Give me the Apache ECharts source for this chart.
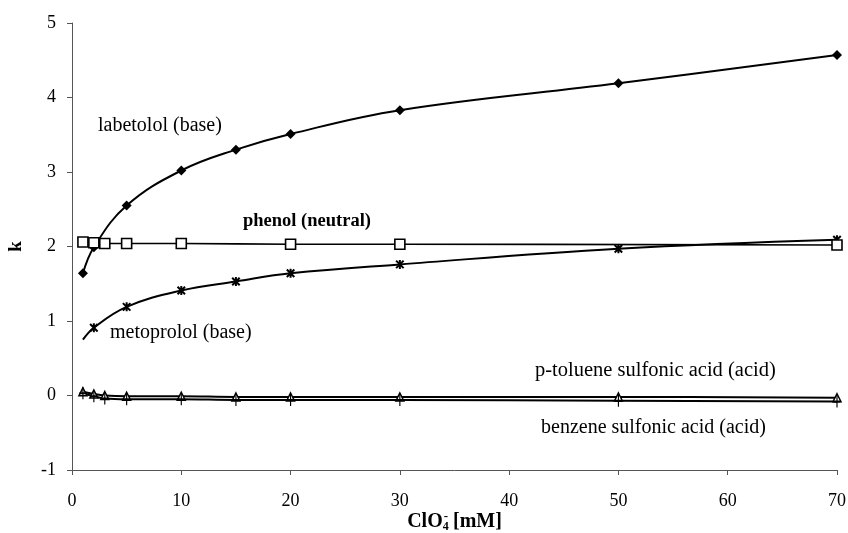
<!DOCTYPE html>
<html>
<head>
<meta charset="utf-8">
<script src="https://cdn.jsdelivr.net/npm/echarts@6/dist/echarts.min.js"></script>
<style>
  html, body { margin: 0; padding: 0; background: #fff; }
  #chart { width: 848px; height: 533px; }
</style>
</head>
<body>
<div id="chart"></div>
<script>
// Retention factor k versus perchlorate concentration (mM)
const labetololX = [1, 2, 5, 10, 15, 20, 30, 50, 70];
const labetololK = [1.64, 1.99, 2.55, 3.02, 3.30, 3.51, 3.83, 4.19, 4.57];

const phenolX = [1, 2, 3, 5, 10, 20, 30, 70];
const phenolK = [2.06, 2.05, 2.04, 2.04, 2.04, 2.03, 2.03, 2.02];

const metoprololX = [1, 2, 5, 10, 15, 20, 30, 50, 70];
const metoprololK = [0.75, 0.91, 1.19, 1.41, 1.53, 1.64, 1.76, 1.97, 2.09];

const acidX = [1, 2, 3, 5, 10, 15, 20, 30, 50, 70];
const toluenesulfonicK = [0.05, 0.02, 0.00, -0.01, -0.01, -0.02, -0.02, -0.02, -0.02, -0.03];
const benzenesulfonicK = [0.03, -0.01, -0.04, -0.05, -0.05, -0.06, -0.06, -0.06, -0.07, -0.08];

const xTicks = { min: 0, max: 70, interval: 10 };
const yTicks = { min: -1, max: 5, interval: 1 };

const serif = '"Liberation Serif", "DejaVu Serif", serif';

function pairs(xs, ys) { return xs.map((x, i) => [x, ys[i]]); }

const asteriskPath = 'path://M0,0 L10,10 M10,0 L0,10 M5,-1 L5,11';
const plusPath = 'path://M5,0 L5,12 M2,6 L8,6';

const chart = echarts.init(document.getElementById('chart'), null, { renderer: 'canvas' });

const baseLine = { type: 'line', smooth: 0.4, z: 3 };

chart.setOption({
  animation: false,
  backgroundColor: '#ffffff',
  grid: { left: 72, right: 11, top: 23, bottom: 63, containLabel: false, outerBoundsMode: 'none' },
  xAxis: {
    type: 'value', min: xTicks.min, max: xTicks.max, interval: xTicks.interval,
    axisLine: { onZero: false, lineStyle: { color: '#555', width: 1 } },
    axisTick: { show: true, length: 5, lineStyle: { color: '#555' } },
    splitLine: { show: false },
    axisLabel: { color: '#000', fontFamily: serif, fontSize: 18, margin: 22 },
    name: '{b|ClO}{sub|4}{sup|-}{b| [mM]}',
    nameLocation: 'middle', nameGap: 40, nameMoveOverlap: false,
    nameTextStyle: {
      rich: {
        b: { fontFamily: serif, fontWeight: 'bold', fontSize: 20, color: '#000', lineHeight: 23, verticalAlign: 'middle' },
        sub: { fontFamily: serif, fontWeight: 'bold', fontSize: 12, color: '#000', lineHeight: 23, verticalAlign: 'bottom' },
        sup: { fontFamily: serif, fontWeight: 'bold', fontSize: 13, color: '#000', lineHeight: 23, verticalAlign: 'top', padding: [0, 0, 0, -5] }
      }
    }
  },
  yAxis: {
    type: 'value', min: yTicks.min, max: yTicks.max, interval: yTicks.interval,
    axisLine: { show: true, lineStyle: { color: '#555', width: 1 } },
    axisTick: { show: true, length: 5, lineStyle: { color: '#555' } },
    splitLine: { show: false },
    axisLabel: { color: '#000', fontFamily: serif, fontSize: 18, margin: 16 },
    name: 'k', nameLocation: 'middle', nameGap: 46, nameRotate: 90, nameMoveOverlap: false,
    nameTextStyle: { fontFamily: serif, fontWeight: 'bold', fontSize: 19, color: '#000' }
  },
  series: [
    Object.assign({}, baseLine, {
      name: 'labetolol (base)',
      data: pairs(labetololX, labetololK),
      symbol: 'diamond', symbolSize: 10,
      lineStyle: { color: '#000', width: 2 },
      itemStyle: { color: '#000' }
    }),
    Object.assign({}, baseLine, {
      name: 'phenol (neutral)',
      data: pairs(phenolX, phenolK),
      symbol: 'rect', symbolSize: 10,
      lineStyle: { color: '#000', width: 1.6 },
      itemStyle: { color: '#fff', borderColor: '#000', borderWidth: 1.6 },
      z: 4
    }),
    Object.assign({}, baseLine, {
      name: 'metoprolol (base)',
      data: pairs(metoprololX, metoprololK).map((p, i) => i === 0 ? { value: p, symbol: 'none' } : p),
      symbol: asteriskPath, symbolSize: 9, symbolKeepAspect: true,
      lineStyle: { color: '#000', width: 2 },
      itemStyle: { color: 'rgba(0,0,0,0)', borderColor: '#000', borderWidth: 2 }
    }),
    Object.assign({}, baseLine, {
      name: 'p-toluene sulfonic acid (acid)',
      data: pairs(acidX, toluenesulfonicK),
      symbol: 'triangle', symbolSize: 8,
      lineStyle: { color: '#000', width: 2 },
      itemStyle: { color: '#fff', borderColor: '#000', borderWidth: 1.5 }
    }),
    Object.assign({}, baseLine, {
      name: 'benzene sulfonic acid (acid)',
      data: pairs(acidX, benzenesulfonicK),
      symbol: plusPath, symbolSize: [7, 12],
      lineStyle: { color: '#000', width: 2 },
      itemStyle: { color: 'rgba(0,0,0,0)', borderColor: '#000', borderWidth: 1.5 }
    })
  ],
  graphic: [
    { type: 'text', x: 98, y: 126, style: { text: 'labetolol (base)', font: '20px ' + serif, fill: '#000', verticalAlign: 'middle' } },
    { type: 'text', x: 243, y: 221, style: { text: 'phenol (neutral)', font: 'bold 18.5px ' + serif, fill: '#000', verticalAlign: 'middle' } },
    { type: 'text', x: 110, y: 333, style: { text: 'metoprolol (base)', font: '20px ' + serif, fill: '#000', verticalAlign: 'middle' } },
    { type: 'text', x: 535, y: 371, style: { text: 'p-toluene sulfonic acid (acid)', font: '20.5px ' + serif, fill: '#000', verticalAlign: 'middle' } },
    { type: 'text', x: 541, y: 428, style: { text: 'benzene sulfonic acid (acid)', font: '20px ' + serif, fill: '#000', verticalAlign: 'middle' } }
  ]
});
</script>
</body>
</html>
